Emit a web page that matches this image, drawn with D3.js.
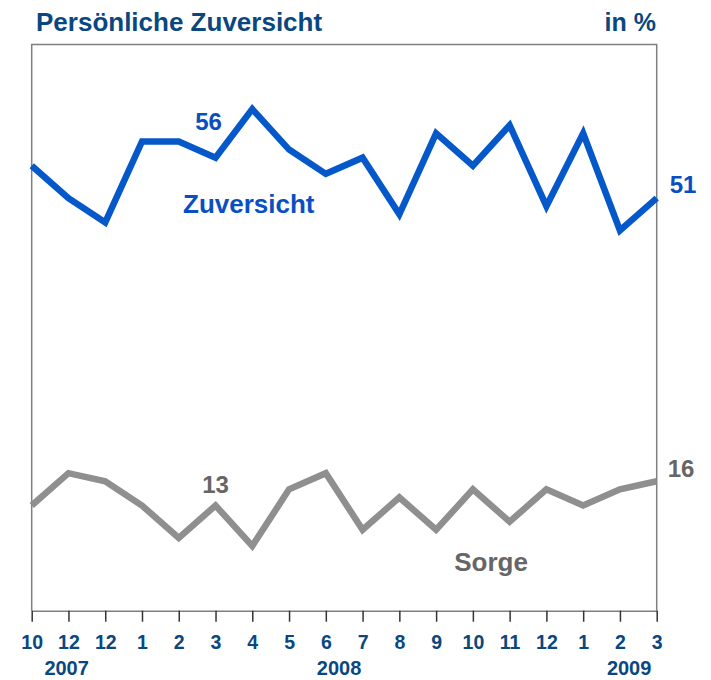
<!DOCTYPE html>
<html>
<head>
<meta charset="utf-8">
<script src="https://cdn.jsdelivr.net/npm/d3@7"></script>
<style>
  body { margin: 0; background: #fff; }
  svg { display: block; font-family: "Liberation Sans", Arial, sans-serif; font-weight: bold; }
</style>
</head>
<body>
<svg id="chart" width="711" height="680"></svg>
<script>
// data
const months = ['10', '12', '12', '1', '2', '3', '4', '5', '6', '7', '8', '9', '10', '11', '12', '1', '2', '3'];
const years = ['2007', '2008', '2009'];
const zuversicht = [55, 51, 48, 58, 58, 56, 62, 57, 54, 56, 49, 59, 55, 60, 50, 59, 47, 51];
const sorge = [13, 17, 16, 13, 9, 13, 8, 15, 17, 10, 14, 10, 15, 11, 15, 13, 15, 16];

const svg = d3.select('#chart');

const margin = { top: 44.4, right: 54.3, bottom: 69.3, left: 31.7 };
const width = 711, height = 680;

const x = d3.scaleLinear()
  .domain([0, months.length - 1])
  .range([margin.left, width - margin.right]);

const y = d3.scaleLinear()
  .domain([0, 70])
  .range([height - margin.bottom, margin.top]);

const titleColor = '#0b477f';
const blue = '#0558c9';
const blueText = '#0a4fc2';
const grey = '#8f8f8f';
const greyText = '#666666';

// frame
svg.append('path')
  .attr('d', `M${x(0)},${y(0)}V${y(70)}H${x(17)}V${y(0)}`)
  .attr('fill', 'none')
  .attr('stroke', '#7f7f7f')
  .attr('stroke-width', 1.5);

// x axis
const xAxis = svg.append('g')
  .attr('transform', `translate(0,${y(0)})`)
  .call(d3.axisBottom(x)
    .tickValues(d3.range(months.length))
    .tickFormat(i => months[i])
    .tickSize(11)
    .tickSizeOuter(0));

xAxis.select('.domain')
  .attr('stroke', '#7f7f7f')
  .attr('stroke-width', 1.5);
xAxis.selectAll('.tick line')
  .attr('stroke', '#333')
  .attr('stroke-width', 1.5);
xAxis.selectAll('.tick text')
  .attr('y', 38.6)
  .attr('dy', 0)
  .attr('fill', titleColor)
  .attr('font-size', 19.5)
  .attr('font-weight', 'bold')
  .attr('font-family', '"Liberation Sans", Arial, sans-serif');

// year labels
const yearAt = [0.95, 8.36, 16.25];
svg.append('g')
  .selectAll('text')
  .data(years)
  .join('text')
  .attr('x', (d, i) => x(yearAt[i]))
  .attr('y', 675)
  .attr('text-anchor', 'middle')
  .attr('fill', titleColor)
  .attr('font-size', 20)
  .text(d => d);

// title
svg.append('text')
  .attr('x', 36)
  .attr('y', 30.7)
  .attr('fill', titleColor)
  .attr('font-size', 26)
  .text('Persönliche Zuversicht');

svg.append('text')
  .attr('x', 656)
  .attr('y', 30.7)
  .attr('text-anchor', 'end')
  .attr('fill', titleColor)
  .attr('font-size', 25)
  .text('in %');

// lines
const line = d3.line()
  .x((d, i) => x(i))
  .y(d => y(d));

svg.append('path')
  .datum(sorge)
  .attr('fill', 'none')
  .attr('stroke', grey)
  .attr('stroke-width', 6.5)
  .attr('stroke-linejoin', 'miter')
  .attr('d', line);

svg.append('path')
  .datum(zuversicht)
  .attr('fill', 'none')
  .attr('stroke', blue)
  .attr('stroke-width', 6.5)
  .attr('stroke-linejoin', 'miter')
  .attr('d', line);

// labels
const last = months.length - 1;

svg.append('text')
  .attr('x', x(5) - 7)
  .attr('y', y(zuversicht[5]) - 28)
  .attr('text-anchor', 'middle')
  .attr('fill', blueText)
  .attr('font-size', 24)
  .text(zuversicht[5]);

svg.append('text')
  .attr('x', x(last) + 13)
  .attr('y', y(zuversicht[last]) - 5)
  .attr('fill', blueText)
  .attr('font-size', 24)
  .text(zuversicht[last]);

svg.append('text')
  .attr('x', 183)
  .attr('y', 212.7)
  .attr('fill', blueText)
  .attr('font-size', 26)
  .text('Zuversicht');

svg.append('text')
  .attr('x', x(5))
  .attr('y', y(sorge[5]) - 13)
  .attr('text-anchor', 'middle')
  .attr('fill', greyText)
  .attr('font-size', 24)
  .text(sorge[5]);

svg.append('text')
  .attr('x', x(last) + 11)
  .attr('y', y(sorge[last]) - 4)
  .attr('fill', greyText)
  .attr('font-size', 24)
  .text(sorge[last]);

svg.append('text')
  .attr('x', 491)
  .attr('y', 571)
  .attr('text-anchor', 'middle')
  .attr('fill', greyText)
  .attr('font-size', 26)
  .text('Sorge');
</script>
</body>
</html>
